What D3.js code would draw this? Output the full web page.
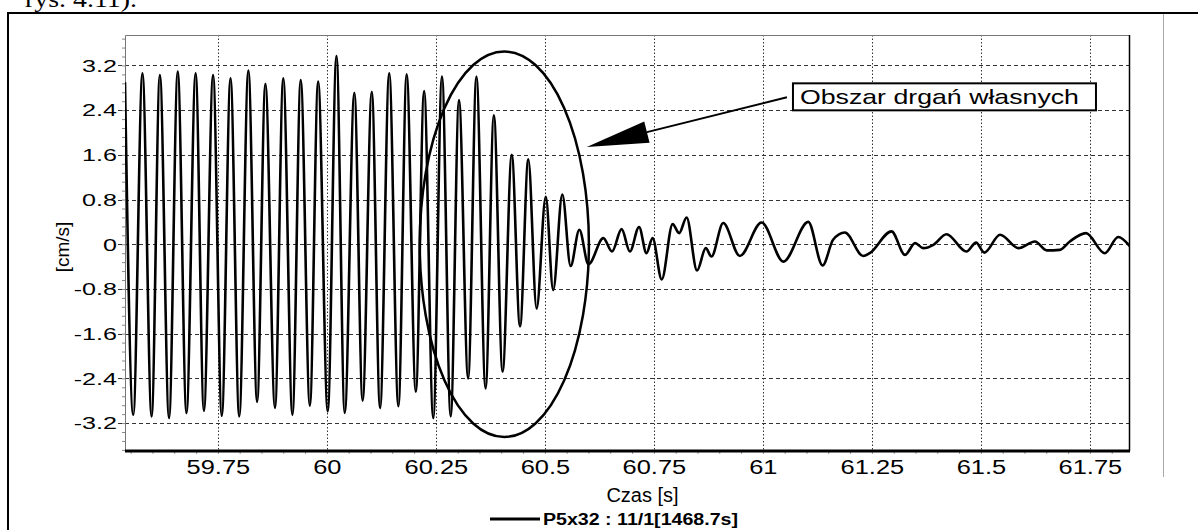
<!DOCTYPE html>
<html>
<head>
<meta charset="utf-8">
<script src="https://cdn.jsdelivr.net/npm/d3@7"></script>
<style>
  body { margin: 0; background: #fff; }
  svg { display: block; font-family: "Liberation Sans", Arial, sans-serif; }
</style>
</head>
<body>
<svg id="chart" width="1198" height="530"></svg>
<script>
// turning points of the velocity trace
const times = [
  59.537, 59.556, 59.577, 59.598, 59.617, 59.638, 59.658, 59.678, 59.699, 59.718,
  59.739, 59.759, 59.779, 59.799, 59.820, 59.840, 59.859, 59.881, 59.900, 59.921,
  59.940, 59.961, 59.980, 60.002, 60.022, 60.041, 60.063, 60.082, 60.103, 60.122,
  60.143, 60.164, 60.183, 60.204, 60.223, 60.244, 60.264, 60.284, 60.303, 60.324,
  60.343, 60.364, 60.383, 60.403, 60.424, 60.443, 60.462, 60.481, 60.502, 60.519,
  60.540, 60.559, 60.579, 60.600, 60.634, 60.654, 60.676, 60.695, 60.716, 60.733,
  60.747, 60.768, 60.793, 60.808, 60.825, 60.849, 60.869, 60.882, 60.909, 60.947,
  60.997, 61.047, 61.104, 61.137, 61.161, 61.188, 61.230, 61.245, 61.295, 61.326,
  61.349, 61.368, 61.391, 61.421, 61.467, 61.489, 61.508, 61.544, 61.586, 61.624,
  61.651, 61.681, 61.704, 61.741, 61.784, 61.815, 61.842
];
const velocity = [
  2.90, -3.05, 3.06, -3.08, 3.03, -3.11, 3.09, -3.02, 3.06, -2.98,
  3.03, -3.07, 2.97, -3.08, 3.11, -2.82, 2.87, -2.93, 2.97, -3.05,
  2.94, -2.89, 2.91, -2.99, 3.37, -3.02, 2.71, -2.80, 2.73, -2.93,
  3.06, -2.90, 3.04, -2.64, 2.74, -3.11, 3.00, -3.08, 2.58, -2.40,
  3.00, -2.58, 2.31, -2.28, 1.60, -1.47, 1.52, -1.15, 0.85, -0.82,
  0.89, -0.39, 0.26, -0.36, 0.11, -0.13, 0.27, -0.13, 0.31, -0.16,
  0.11, -0.63, 0.36, 0.20, 0.48, -0.47, -0.07, -0.22, 0.38, -0.21,
  0.39, -0.31, 0.40, -0.38, 0.08, 0.21, -0.21, -0.16, 0.23, -0.19,
  0.02, -0.07, -0.01, 0.18, -0.13, 0.03, -0.15, 0.17, -0.07, 0.05,
  -0.11, -0.10, 0.05, 0.20, -0.16, 0.13, -0.04
];
const xTicks = [59.75, 60, 60.25, 60.5, 60.75, 61, 61.25, 61.5, 61.75];
const yTicks = [3.2, 2.4, 1.6, 0.8, 0, -0.8, -1.6, -2.4, -3.2];
const xTitle = "Czas [s]";
const yTitle = "[cm/s]";
const seriesName = "P5x32  : 11/1[1468.7s]";
const noteText = "Obszar drgań własnych";
const pageText = "rys. 4.11).";

const svg = d3.select("#chart");
const plotLeft = 125, plotRight = 1130, plotTop = 35, plotBottom = 451;

const x = d3.scaleLinear().domain([59.537, 61.842]).range([plotLeft, plotRight]);
const y = d3.scaleLinear().domain([-3.7, 3.745]).range([plotBottom, plotTop]);

// page frame and caption remnant (cut at the top, as in the scan)
svg.append("text")
  .attr("x", 25).attr("y", 7)
  .attr("font-family", "Liberation Serif, serif")
  .attr("font-size", 24)
  .attr("textLength", 112).attr("lengthAdjust", "spacingAndGlyphs")
  .text(pageText);
svg.append("path")
  .attr("d", "M8,530V13H1198")
  .attr("fill", "none").attr("stroke", "#000").attr("stroke-width", 2);
svg.append("line")
  .attr("x1", 1163.5).attr("x2", 1163.5).attr("y1", 14).attr("y2", 477)
  .attr("stroke", "#aaa").attr("stroke-width", 1);

// grid
svg.append("g").selectAll("line")
  .data(yTicks)
  .join("line")
  .attr("x1", plotLeft - 7).attr("x2", plotRight + 1)
  .attr("y1", d => Math.round(y(d)) + 0.5).attr("y2", d => Math.round(y(d)) + 0.5)
  .attr("stroke", "#333").attr("stroke-dasharray", "4,3");
svg.append("g").selectAll("line")
  .data(xTicks)
  .join("line")
  .attr("x1", d => Math.round(x(d)) + 0.5).attr("x2", d => Math.round(x(d)) + 0.5)
  .attr("y1", plotTop).attr("y2", plotBottom)
  .attr("stroke", "#333").attr("stroke-dasharray", "1.5,2");

// minor ticks
svg.append("g")
  .attr("transform", `translate(0,${plotBottom})`)
  .call(d3.axisBottom(x).tickValues(d3.range(59.55, 61.84, 0.05)).tickSize(3).tickFormat(""))
  .call(g => g.select(".domain").remove())
  .call(g => g.selectAll("line").attr("stroke", "#999"));
svg.append("g")
  .attr("transform", `translate(${plotLeft},0)`)
  .call(d3.axisLeft(y).tickValues(d3.range(-3.68, 3.74, 0.16)).tickSize(3).tickFormat(""))
  .call(g => g.select(".domain").remove())
  .call(g => g.selectAll("line").attr("stroke", "#888"));

// frame of the plot
svg.append("path")
  .attr("d", `M${plotLeft + 0.5},${plotBottom}V${plotTop + 0.5}H${plotRight - 0.5}`)
  .attr("fill", "none").attr("stroke", "#777");
svg.append("line")
  .attr("x1", plotRight - 0.5).attr("x2", plotRight - 0.5).attr("y1", plotTop).attr("y2", plotBottom)
  .attr("stroke", "#000").attr("stroke-width", 1.5);
svg.append("line")
  .attr("x1", plotLeft).attr("x2", plotRight).attr("y1", plotBottom).attr("y2", plotBottom)
  .attr("stroke", "#000").attr("stroke-width", 3);

// tick labels (stretched like the scanned original)
const kx = 1.27, ky = 1.57;
svg.append("g")
  .attr("transform", `translate(0,${plotBottom})`)
  .call(d3.axisBottom(x).tickValues(xTicks).tickSize(0).tickPadding(9).tickFormat(d => String(d)))
  .call(g => g.select(".domain").remove())
  .call(g => g.selectAll("text")
    .attr("font-family", "Liberation Sans, Arial, sans-serif")
    .attr("font-size", 20).attr("fill", "#000")
    .attr("transform", `scale(${kx},1)`));
svg.append("g")
  .attr("transform", `translate(${plotLeft},0)`)
  .call(d3.axisLeft(y).tickValues(yTicks).tickSize(0).tickFormat(d => String(d)))
  .call(g => g.select(".domain").remove())
  .call(g => g.selectAll("text")
    .attr("font-family", "Liberation Sans, Arial, sans-serif")
    .attr("font-size", 16).attr("fill", "#000")
    .attr("x", -8 / ky).attr("dy", "0.36em")
    .attr("transform", `scale(${ky},1)`));

// axis titles
svg.append("text")
  .attr("x", (plotLeft + plotRight) / 2 + 15).attr("y", 502)
  .attr("text-anchor", "middle").attr("font-size", 20)
  .text(xTitle);
svg.append("text")
  .attr("transform", "translate(69,247) rotate(-90)")
  .attr("text-anchor", "middle").attr("font-size", 19)
  .text(yTitle);

// the trace
svg.append("clipPath").attr("id", "plot-clip")
  .append("rect").attr("x", plotLeft).attr("y", plotTop)
  .attr("width", plotRight - plotLeft).attr("height", plotBottom - plotTop);
const points = times.map((t, i) => [t, velocity[i]]);
const line = d3.line()
  .x(d => x(d[0]))
  .y(d => y(d[1]))
  .curve(d3.curveMonotoneX);
svg.append("path")
  .datum(points)
  .attr("clip-path", "url(#plot-clip)")
  .attr("d", line)
  .attr("fill", "none")
  .attr("stroke", "#000")
  .attr("stroke-width", 2.6)
  .attr("stroke-linejoin", "round");

// annotation: ring around free vibrations, arrow and note box
const ring = {t: 60.407, v: 0, halfT: 0.194, halfV: 3.45};
svg.append("ellipse")
  .attr("cx", x(ring.t)).attr("cy", y(ring.v))
  .attr("rx", x(ring.t + ring.halfT) - x(ring.t))
  .attr("ry", y(ring.v) - y(ring.v + ring.halfV))
  .attr("fill", "none").attr("stroke", "#000").attr("stroke-width", 2.5);

const note = {t: 61.069, v: 2.88, w: 303, h: 27};
const nx = x(note.t), ny = y(note.v);
const tip = [x(60.596), y(1.74)];
const tail = [nx - 6, ny + 14];
const ang = Math.atan2(tail[1] - tip[1], tail[0] - tip[0]);
const headLen = 62, headHalf = 11;
const base = [tip[0] + headLen * Math.cos(ang), tip[1] + headLen * Math.sin(ang)];
svg.append("line")
  .attr("x1", tail[0]).attr("y1", tail[1]).attr("x2", base[0]).attr("y2", base[1])
  .attr("stroke", "#000").attr("stroke-width", 2);
svg.append("path")
  .attr("d", d3.line()([
    tip,
    [base[0] - headHalf * Math.sin(ang), base[1] + headHalf * Math.cos(ang)],
    [base[0] + headHalf * Math.sin(ang), base[1] - headHalf * Math.cos(ang)]
  ]) + "Z")
  .attr("fill", "#000");
svg.append("rect")
  .attr("x", nx).attr("y", ny).attr("width", note.w).attr("height", note.h)
  .attr("fill", "#fff").attr("stroke", "#000").attr("stroke-width", 2);
svg.append("text")
  .attr("x", nx + 7).attr("y", ny + 21)
  .attr("font-size", 21)
  .attr("textLength", 279).attr("lengthAdjust", "spacingAndGlyphs")
  .text(noteText);

// legend
svg.append("line")
  .attr("x1", 490).attr("x2", 540).attr("y1", 519).attr("y2", 519)
  .attr("stroke", "#000").attr("stroke-width", 3);
svg.append("text")
  .attr("x", 543).attr("y", 525)
  .attr("font-size", 16).attr("font-weight", "bold")
  .attr("textLength", 195).attr("lengthAdjust", "spacingAndGlyphs")
  .text(seriesName);
</script>
</body>
</html>
